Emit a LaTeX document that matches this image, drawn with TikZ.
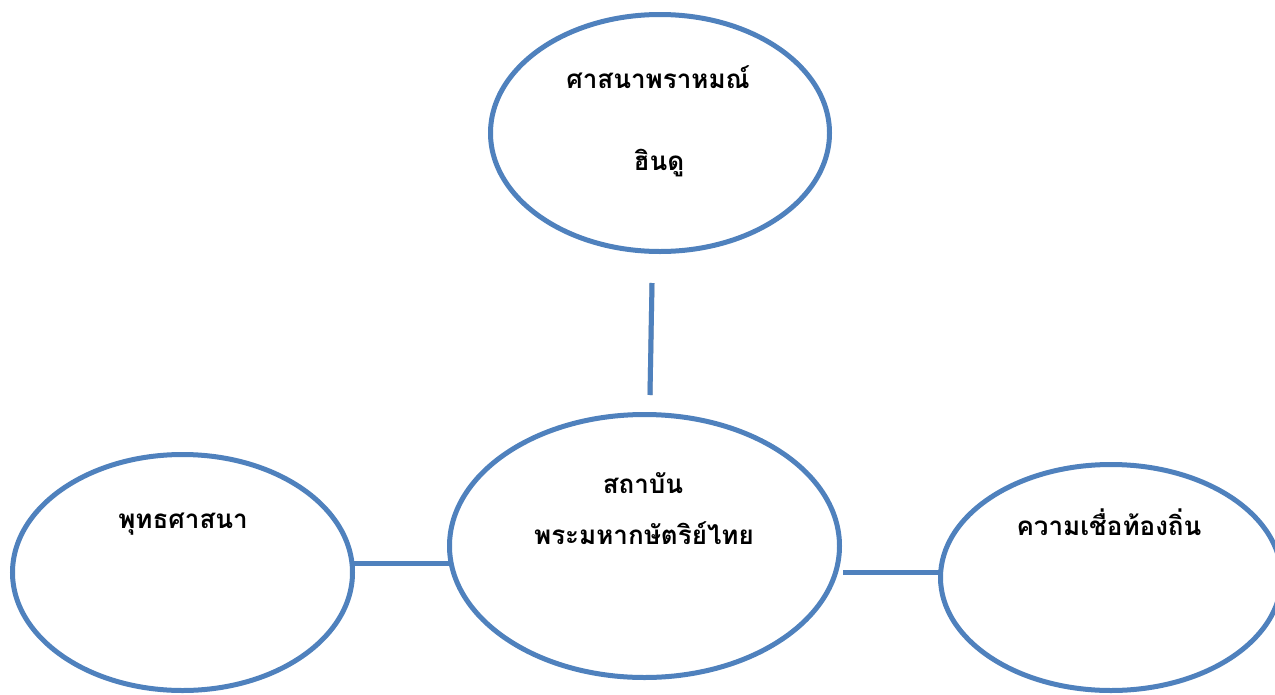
\documentclass[tikz,border=0pt]{standalone}
\usepackage{fontspec}
\newfontfamily\thaifont[Script=Thai]{Loma}
\usetikzlibrary{shapes.geometric}
\definecolor{ringblue}{HTML}{4F81BD}
\tikzset{
  ring/.style={ellipse, draw=ringblue, line width=5pt, inner sep=0pt, fill=white},
  label/.style={font=\thaifont\bfseries\fontsize{26}{31}\selectfont, anchor=base, inner sep=0pt},
  link/.style={draw=ringblue, line width=5pt},
  linkshadow/.style={draw=black!55, line width=5pt, opacity=0.5}
}
\begin{document}
\begin{tikzpicture}[x=1pt,y=-1pt]
\useasboundingbox (0,0) rectangle (1275,694);
% ellipses
\node[ring, minimum width=339pt, minimum height=237pt] (top) at (660,133) {};
\node[ring, minimum width=390pt, minimum height=263pt] (mid) at (644.5,546) {};
\node[ring, minimum width=340pt, minimum height=236pt] (left) at (182.5,572.5) {};
\node[ring, minimum width=341pt, minimum height=226pt] (right) at (1111,577.5) {};
% connector end points
\coordinate (v1) at (652,283);
\coordinate (v2) at (650,395);
\coordinate (l1) at (350,563);
\coordinate (l2) at (450,563);
\coordinate (r1) at (843,572);
\coordinate (r2) at (940,572);
% shadows
\begin{scope}[shift={(1,3)}]
\draw[linkshadow] (v1) -- (v2);
\draw[linkshadow] (l1) -- (l2);
\draw[linkshadow] (r1) -- (r2);
\end{scope}
% connectors
\draw[link] (v1) -- (v2);
\draw[link] (l1) -- (l2);
\draw[link] (r1) -- (r2);
% texts
\node[label] (t1) at (658,88) {ศาสนาพราหมณ์};
\node[label] (t2) at (659,170) {ฮินดู};
\node[label] (m1) at (643,493) {สถาบัน};
\node[label] (m2) at (644,544) {พระมหากษัตริย์ไทย};
\node[label] (lt) at (183,528) {พุทธศาสนา};
\node[label] (rt) at (1109,535) {ความเชื่อท้องถิ่น};
\end{tikzpicture}
\end{document}
